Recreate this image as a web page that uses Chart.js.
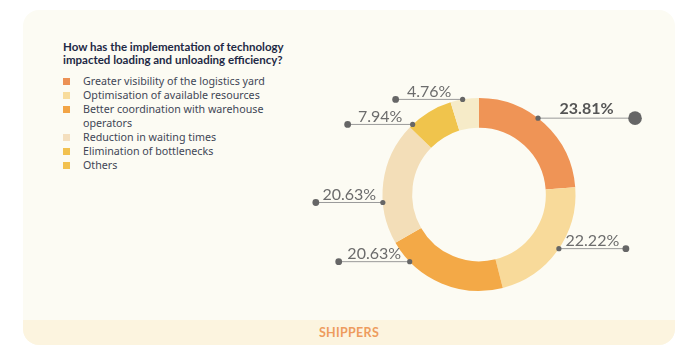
<!DOCTYPE html>
<html>
<head>
<meta charset="utf-8">
<script src="https://cdn.jsdelivr.net/npm/chart.js@4"></script>
<style>
  body { margin: 0; background: #ffffff; font-family: Lato, "Open Sans", sans-serif; }
  #wrap { position: relative; width: 700px; height: 350px; overflow: hidden; }
  #card { position: absolute; left: 23px; top: 10px; width: 652px; height: 335px; border-radius: 16px; background: #fcfbf3; overflow: hidden; }
  #footer { position: absolute; left: 0; top: 310px; width: 100%; height: 25px; background: #fcf4df; text-align: center; line-height: 25px; color: #ee9c5e; font-weight: 700; font-size: 12.5px; letter-spacing: 0.3px; }
  #title { position: absolute; left: 63px; top: 41px; font-weight: 700; font-size: 11.5px; line-height: 12.5px; color: #1e2945; }
  #legend { position: absolute; left: 63px; top: 74px; margin: 0; padding: 0; list-style: none; font-family: "Noto Sans", sans-serif; font-size: 10.7px; line-height: 14px; color: #3f4656; }
  #legend li { position: relative; padding-left: 20px; width: 190px; }
  #legend li span { position: absolute; left: 0; top: 4px; width: 7px; height: 7px; }
  canvas { position: absolute; left: 0; top: 0; }
</style>
</head>
<body>
<div id="wrap">
  <div id="card"><div id="footer">SHIPPERS</div></div>
  <div id="title">How has the implementation of technology<br>impacted loading and unloading efficiency?</div>
  <ul id="legend"></ul>
  <canvas id="plot" width="700" height="350"></canvas>
</div>
<script>
const labels = [
  'Greater visibility of the logistics yard',
  'Optimisation of available resources',
  'Better coordination with warehouse operators',
  'Reduction in waiting times',
  'Elimination of bottlenecks',
  'Others'
]
const values = [23.81, 22.22, 20.63, 20.63, 7.94, 4.76]
const colors = ['#ef9456', '#f8da9a', '#f3a947', '#f3deb8', '#f0c44c', '#f6ebc8']
const legendColors = ['#ec9155', '#f8dc9c', '#f2a445', '#f4dfbe', '#f2c14f', '#f2c14f']

// legend
let legend_html = ''
labels.forEach((label, i) => {
  legend_html += `<li><span style="background:${legendColors[i]}"></span>${label}</li>`
})
document.getElementById('legend').innerHTML = legend_html

// leader lines with dots and percentage labels
const leaderPlugin = {
  id: 'leaders',
  afterDatasetsDraw(chart, args, opts) {
    const ctx = chart.ctx
    const meta = chart.getDatasetMeta(0)
    meta.data.forEach((arc, i) => {
      const p = arc.getProps(['x', 'y', 'startAngle', 'endAngle', 'outerRadius'], true)
      const a = p.startAngle + opts.anchor[i] * (p.endAngle - p.startAngle)
      const x0 = p.x + p.outerRadius * Math.cos(a)
      const y0 = p.y + p.outerRadius * Math.sin(a)
      const x1 = x0 + opts.side[i] * opts.length[i]
      const big = i === 0
      ctx.save()
      ctx.strokeStyle = '#9a9a9a'
      ctx.lineWidth = 1
      ctx.beginPath()
      ctx.moveTo(x0, y0)
      ctx.lineTo(x1, y0)
      ctx.stroke()
      ctx.fillStyle = '#666666'
      ctx.beginPath()
      ctx.arc(x0, y0, 2.6, 0, Math.PI * 2)
      ctx.fill()
      ctx.beginPath()
      ctx.arc(x1, y0, big ? 6.8 : 3.4, 0, Math.PI * 2)
      ctx.fill()
      ctx.font = (big ? '700 ' : '400 ') + '16px Lato'
      ctx.fillStyle = big ? '#555555' : '#6c6c6c'
      ctx.textAlign = 'center'
      ctx.textBaseline = 'alphabetic'
      ctx.fillText(values[i].toFixed(2) + '%', (x0 + x1) / 2, y0 - (big ? 4 : 2.5))
      ctx.restore()
    })
  }
}

const config = {
  type: 'doughnut',
  data: {
    labels: labels,
    datasets: [{
      data: values,
      backgroundColor: colors,
      borderWidth: 0
    }]
  },
  options: {
    responsive: false,
    animation: false,
    radius: 96.5,
    cutout: 66.5,
    layout: { padding: { left: 383, right: 125, top: 98, bottom: 59 } },
    plugins: {
      legend: { display: false },
      tooltip: { enabled: false },
      leaders: {
        anchor: [0.44, 0.48, 0.81, 0.34, 0.08, 0.43],
        side: [1, 1, -1, -1, -1, -1],
        length: [97, 67, 71, 67, 65, 67]
      }
    }
  },
  plugins: [leaderPlugin]
}

myChart = new Chart(document.getElementById('plot'), config)
</script>
</body>
</html>
